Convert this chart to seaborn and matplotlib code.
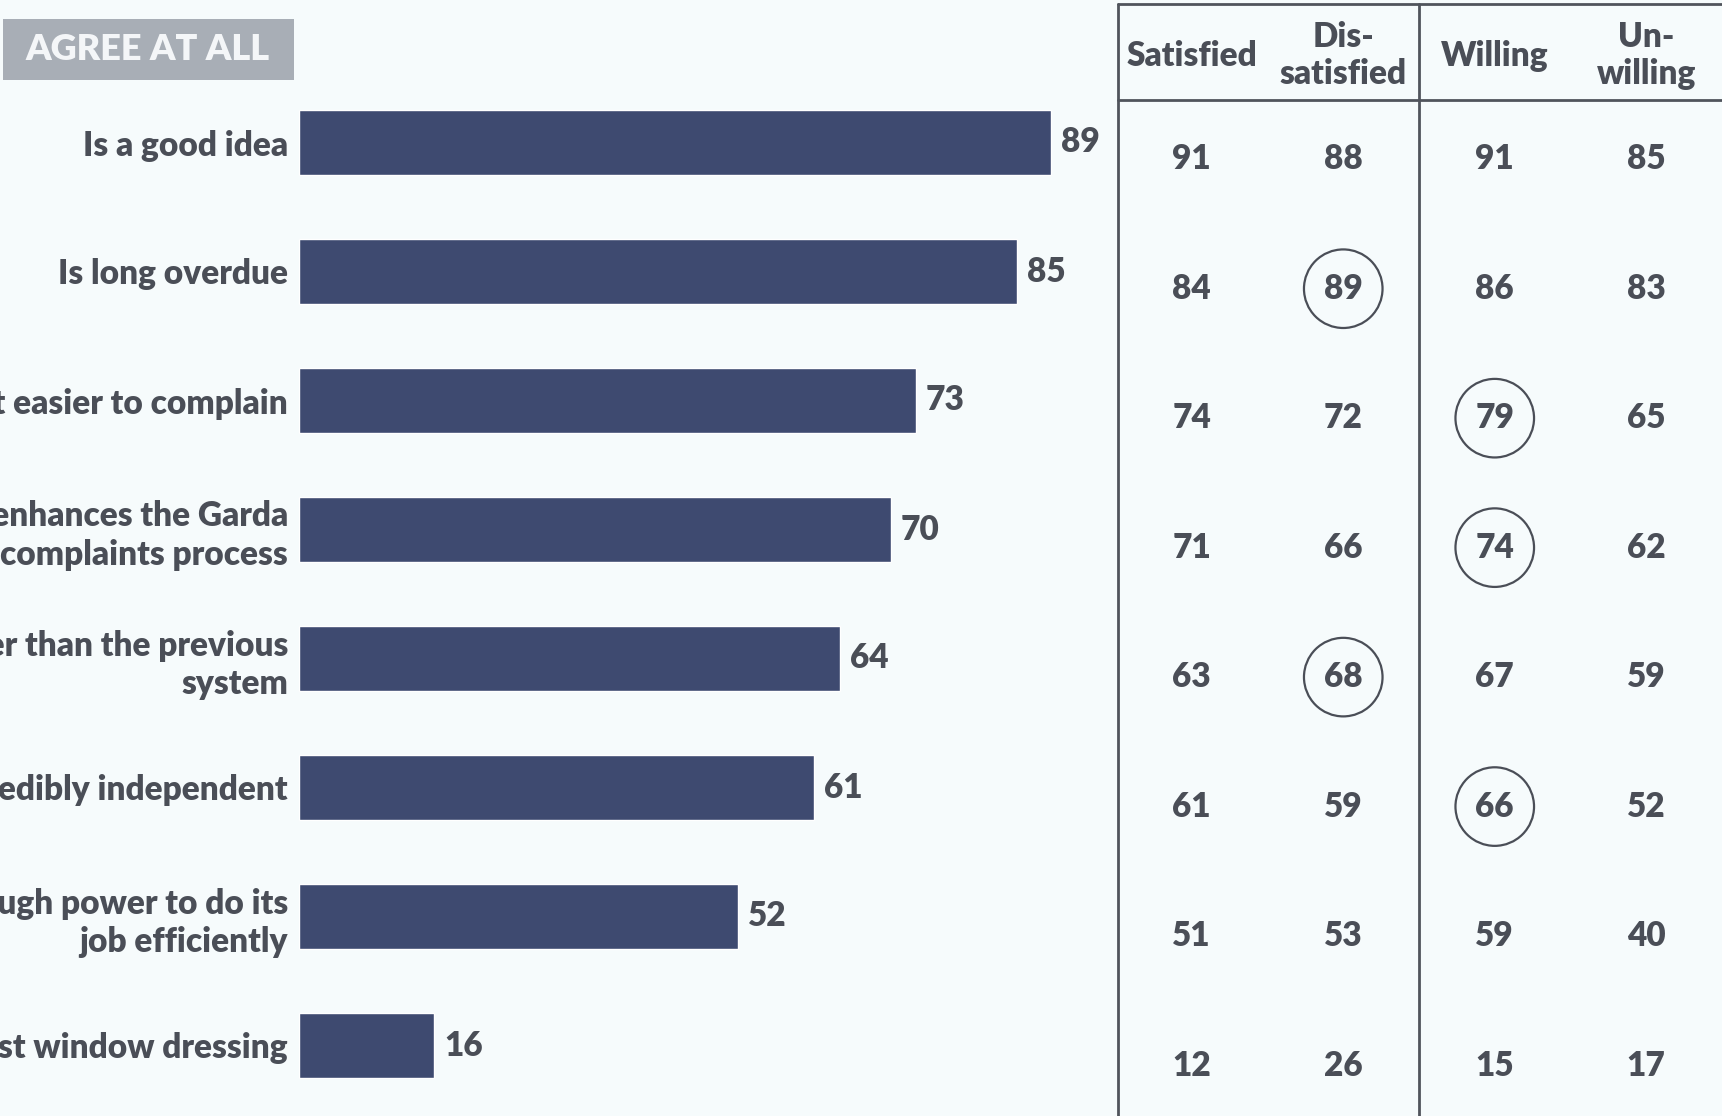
import matplotlib
matplotlib.use("Agg")
import matplotlib.pyplot as plt
from matplotlib.patches import Rectangle
import seaborn as sns
import pandas as pd

# statements (left part is cut off by the slide edge in the original)
statements = [
    "Is a good idea",
    "Is long overdue",
    "Makes it easier to complain",
    "Significantly enhances the Garda\ncomplaints process",
    "Is better than the previous\nsystem",
    "Is credibly independent",
    "Has enough power to do its\njob efficiently",
    "Is just window dressing",
]
agree_pct = [89, 85, 73, 70, 64, 61, 52, 16]

# breakdown table
columns = ["Satisfied", "Dis-\nsatisfied", "Willing", "Un-\nwilling"]
satisfied = [91, 84, 74, 71, 63, 61, 51, 12]
dissatisfied = [88, 89, 72, 66, 68, 59, 53, 26]
willing = [91, 86, 79, 74, 67, 66, 59, 15]
unwilling = [85, 83, 65, 62, 59, 52, 40, 17]

# circled cells (row index, column index)
circled_rows = [1, 2, 3, 4, 5]
circled_cols = [1, 2, 2, 1, 2]

BG = "#f6fbfc"
BAR = "#3e4a70"
TXT = "#4a4e57"
BOX = "#a8aeb6"
FS = 24
WT = "heavy"

sns.set_theme(style="white", rc={"axes.facecolor": BG, "figure.facecolor": BG})
plt.rcParams["font.family"] = ["Lato", "DejaVu Sans"]

W, H = 1722, 1116
fig = plt.figure(figsize=(W / 100, H / 100), dpi=100)

# bar chart
ax = fig.add_axes([299 / W, 1 - 1110 / H, 845 / W, (1110 - 78) / H])
sns.barplot(x=agree_pct, y=statements, orient="h", color=BAR, width=0.5,
            saturation=1, ax=ax)
ax.set_xlim(0, 100)
ax.set_ylim(7.5, -0.5)
ax.set_xticks([])
ax.set_xlabel("")
ax.set_ylabel("")
sns.despine(ax=ax, left=True, bottom=True)
ax.tick_params(axis="y", length=0, pad=8)
for lbl in ax.get_yticklabels():
    lbl.set_fontsize(FS)
    lbl.set_fontweight(WT)
    lbl.set_color(TXT)
    lbl.set_linespacing(1.25)
ax.bar_label(ax.containers[0], padding=7, fontsize=FS, fontweight=WT, color=TXT)

# title box
fig.patches.append(Rectangle((3 / W, 1 - 80 / H), 291 / W, 61 / H,
                             transform=fig.transFigure, facecolor=BOX,
                             edgecolor="none"))
fig.text(148 / W, 1 - 50 / H, "AGREE AT ALL", ha="center", va="center",
         fontsize=26, fontweight=WT, color="#f4f6f8")

# table on the right
tax = fig.add_axes([1116 / W, 0, 1 - 1116 / W, 1])
tax.set_xlim(-0.5, 3.5)
tax.set_ylim(7.39, -1.23)
tax.axis("off")

table = pd.DataFrame({columns[0]: satisfied, columns[1]: dissatisfied,
                      columns[2]: willing, columns[3]: unwilling})

line_kw = dict(color="#50545c", lw=2, clip_on=False)
tax.plot([-0.49, -0.49], [-1.2, 7.39], **line_kw)
tax.plot([1.5, 1.5], [-1.2, 7.39], **line_kw)
tax.plot([-0.49, 3.5], [-1.2, -1.2], **line_kw)
tax.plot([-0.49, 3.5], [-0.46, -0.46], **line_kw)

for j, col in enumerate(table.columns):
    tax.text(j, -0.8, col, ha="center", va="center", fontsize=FS,
             fontweight=WT, color=TXT, linespacing=1.2)
    for i, v in enumerate(table[col]):
        tax.text(j, i, str(v), ha="center", va="center", fontsize=FS,
                 fontweight=WT, color=TXT)

tax.scatter(circled_cols, circled_rows, s=3200, facecolors="none",
            edgecolors=TXT, linewidths=1.6, clip_on=False)

fig.savefig("out.png", dpi=100, facecolor=BG)
